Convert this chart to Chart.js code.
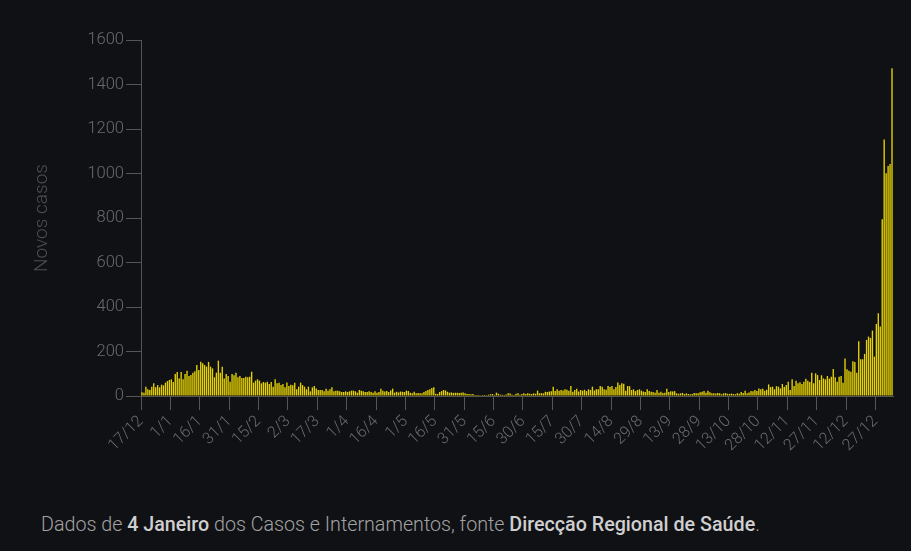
<!DOCTYPE html>
<html>
<head>
<meta charset="utf-8">
<script src="https://cdn.jsdelivr.net/npm/chart.js@4"></script>
<style>
  body { margin: 0; background: #101115; width: 911px; height: 551px; overflow: hidden; font-family: Roboto, sans-serif; }
  #wrap { position: absolute; left: 0; top: 0; width: 911px; height: 480px; }
  #nota { position: absolute; left: 41px; top: 513px; font-size: 19.7px; color: #a3a3a3; font-weight: 300; white-space: nowrap; }
  #nota b { color: #cfcfcf; font-weight: 500; }
</style>
</head>
<body>
<div id="wrap"><canvas id="grafico" width="911" height="480"></canvas></div>
<div id="nota">Dados de <b>4 Janeiro</b> dos Casos e Internamentos, fonte <b>Direcção Regional de Saúde</b>.</div>
<script>
// etiquetas do eixo x (uma a cada 15 dias, a partir de 17/12/2020)
const tickLabels = ['17/12','1/1','16/1','31/1','15/2','2/3','17/3','1/4','16/4','1/5','16/5','31/5','15/6',
  '30/6','15/7','30/7','14/8','29/8','13/9','28/9','13/10','28/10','12/11','27/11','12/12','27/12'];

// novos casos por dia, 17/12/2020 a 3/1/2022
const novosCasos = [
  17,15,42,30,27,42,57,39,49,39,51,48,60,67,72,
  75,63,99,108,79,108,75,99,114,90,94,105,111,139,117,
  154,147,139,132,153,132,124,84,105,159,105,132,79,99,90,
  64,99,93,105,84,90,81,81,87,84,87,109,60,69,75,
  69,57,63,60,64,54,63,42,75,57,60,49,54,39,61,
  45,51,48,60,30,42,60,49,42,30,42,21,39,45,34,
  27,27,27,21,33,24,30,39,21,24,24,21,18,18,21,
  18,21,24,24,21,15,27,24,21,18,18,21,18,15,21,
  15,18,33,24,20,22,18,25,33,15,19,16,20,19,18,
  24,22,15,12,19,12,14,12,12,18,22,27,30,36,39,
  10,9,18,22,27,25,19,15,16,14,15,15,13,15,16,
  12,9,9,8,9,5,4,4,3,4,5,4,6,8,9,
  5,15,10,6,6,5,7,12,11,6,5,10,12,6,9,
  12,9,12,10,9,12,10,24,12,13,12,19,18,20,21,
  42,22,30,24,27,25,30,28,24,45,19,27,33,20,27,
  24,28,22,30,27,42,25,30,30,45,42,30,28,45,40,
  45,30,40,61,49,57,55,24,45,44,27,30,22,27,30,
  24,20,18,30,22,19,18,15,27,15,19,14,15,33,18,
  21,20,22,12,10,12,14,9,12,9,8,9,14,12,12,
  17,19,22,15,24,17,12,12,11,13,12,8,12,13,10,
  9,11,9,8,12,10,18,14,24,12,16,22,21,27,22,
  34,30,33,24,28,52,40,42,30,44,42,34,54,40,49,
  64,27,75,45,69,57,62,54,64,78,69,63,105,57,102,
  94,72,93,79,75,90,78,87,121,84,64,87,90,60,169,
  120,114,109,156,153,105,246,165,165,189,252,267,261,294,177,
  324,372,312,794,1153,1001,1034,1043,1473
];

const corEixo = '#555555';
const corTexto = '#6b6b6b';
const fonte = { family: 'Roboto', size: 16, weight: '300' };

const ctx = document.getElementById('grafico').getContext('2d');
new Chart(ctx, {
  type: 'bar',
  data: {
    datasets: [{
      data: novosCasos.map((v, i) => ({ x: i + 0.5, y: v })),
      backgroundColor: '#e6d200',
      barPercentage: 0.7,
      categoryPercentage: 1
    }]
  },
  options: {
    responsive: false,
    animation: false,
    layout: { padding: { top: 40, right: 18, bottom: 0, left: 0 } },
    plugins: { legend: { display: false }, tooltip: { enabled: false } },
    scales: {
      x: {
        type: 'linear',
        min: 0,
        max: novosCasos.length,
        offset: false,
        grid: { drawOnChartArea: false, offset: false, color: corEixo, tickLength: 14 },
        border: { color: corEixo },
        ticks: {
          stepSize: 15,
          includeBounds: false,
          autoSkip: false,
          minRotation: 45,
          maxRotation: 45,
          padding: 2,
          color: corTexto,
          font: fonte,
          callback: v => tickLabels[Math.round(v / 15)]
        },
        afterFit: s => { s.height = 84; }
      },
      y: {
        min: 0,
        max: 1600,
        grid: { drawOnChartArea: false, color: corEixo, tickLength: 15 },
        border: { color: corEixo },
        ticks: { stepSize: 200, color: corTexto, font: { family: 'Roboto', size: 16.5, weight: '300' }, padding: 2, callback: v => String(v) },
        title: {
          display: true,
          text: 'Novos casos',
          color: '#4f4f4f',
          font: { family: 'Roboto', size: 19, weight: '300' },
          padding: { top: 31, bottom: 0 }
        },
        afterFit: s => { s.width = 141; }
      }
    }
  }
});
</script>
</body>
</html>
